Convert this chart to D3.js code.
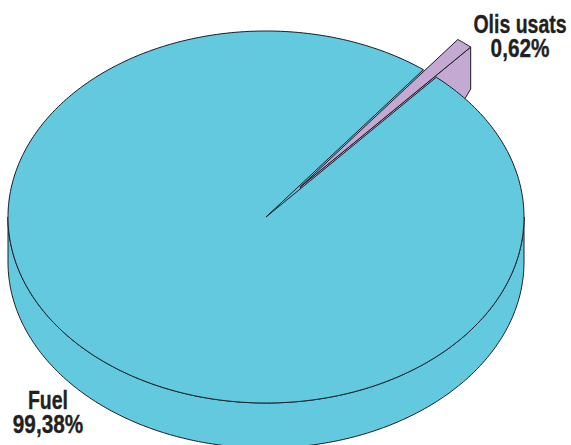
<!DOCTYPE html>
<html><head><meta charset="utf-8">
<script src="https://cdn.jsdelivr.net/npm/d3@7/dist/d3.min.js"></script>
<style>html,body{margin:0;padding:0;background:#fff;overflow:hidden}svg{display:block}
text{font-family:"Liberation Sans",sans-serif;font-weight:700;font-size:25px;fill:#231f20;stroke:#231f20;stroke-width:.35px;text-anchor:middle}</style>
</head><body><svg id="c" width="571" height="445"></svg>
<script>
const categories = ["Olis usats", "Fuel"];
const values = [0.62, 99.38];
const valueLabels = ["0,62%", "99,38%"];
const colors = ["#c4a9d2", "#62c9df"];
const strokeColor = "#1a1a24";

const W = 571, H = 445;
const cx = 266, cy = 217, rx = 258, ry = 186, depth = 45;
const startDeg = 37.6;      // first slice start
const minShare = 1.03;      // very thin slices are drawn at this minimum share
const explode = 0.21;

const svg = d3.select("#c");
const px = d3.scaleLinear().domain([-1, 1]).range([cx - rx, cx + rx]);
const py = d3.scaleLinear().domain([-1, 1]).range([cy - ry, cy + ry]);

const pie = d3.pie().sort(null).value(v => Math.max(v, minShare))
  .startAngle(startDeg * Math.PI / 180)
  .endAngle(startDeg * Math.PI / 180 + 2 * Math.PI);
const arcs = pie(values);
const [olis, fuel] = arcs;
const mid = (olis.startAngle + olis.endAngle) / 2;
const off = [explode * Math.sin(mid), -explode * Math.cos(mid)];

const U = (a, r = 1) => [r * Math.sin(a), -r * Math.cos(a)];
const line = d3.line().x(d => px(d[0])).y(d => py(d[1]) + (d[2] || 0));
const arcPts = (a0, a1, dy = 0, o = [0, 0]) => {
  const n = Math.max(2, Math.ceil(Math.abs(a1 - a0) / 0.01));
  return d3.range(n + 1).map(i => {
    const a = a0 + (a1 - a0) * i / n, p = U(a);
    return [p[0] + o[0], p[1] + o[1], dy];
  });
};
const sw = 1;
const poly = (pts, fill, closed = true) => svg.append("path")
  .attr("d", line(pts) + (closed ? "Z" : ""))
  .attr("fill", fill).attr("stroke", strokeColor)
  .attr("stroke-width", sw).attr("stroke-linejoin", "round");

// Fuel body (rim wall)
const halfPi = Math.PI / 2;
poly([...arcPts(halfPi, 3 * halfPi, 0), ...arcPts(3 * halfPi, halfPi, depth)], colors[1]);
// Base under the notch
svg.append("path").attr("d", line(arcPts(0, 2 * Math.PI)) + "Z").attr("fill", colors[1]);

// Exploded slice: side walls
const e1 = U(olis.endAngle);
const outer = [e1[0] + off[0], e1[1] + off[1]];
const apex = off;
poly([
  [apex[0], apex[1], 0],
  [outer[0], outer[1], 0],
  [outer[0], outer[1], depth - 3],
  [U(olis.endAngle + 0.16)[0], U(olis.endAngle + 0.16)[1], 0],
  [apex[0], apex[1], depth - 3]
], colors[0]);

// Fuel top with notch
poly([[0, 0], ...arcPts(fuel.startAngle, fuel.endAngle)], colors[1]);

// Slice top
poly([apex, ...arcPts(olis.startAngle, olis.endAngle, 0, off)], colors[0]);

// Labels
const labelPos = [[520, 33, 57], [48, 409, 433]];
const condenseName = 0.78, condenseValue = 0.83;
categories.forEach((c, i) => {
  [[c, labelPos[i][1], condenseName], [valueLabels[i], labelPos[i][2], condenseValue]].forEach(([s, y, k]) => {
    svg.append("text")
      .attr("transform", `translate(${labelPos[i][0]},${y}) scale(${k},1)`)
      .text(s);
  });
});
</script></body></html>
